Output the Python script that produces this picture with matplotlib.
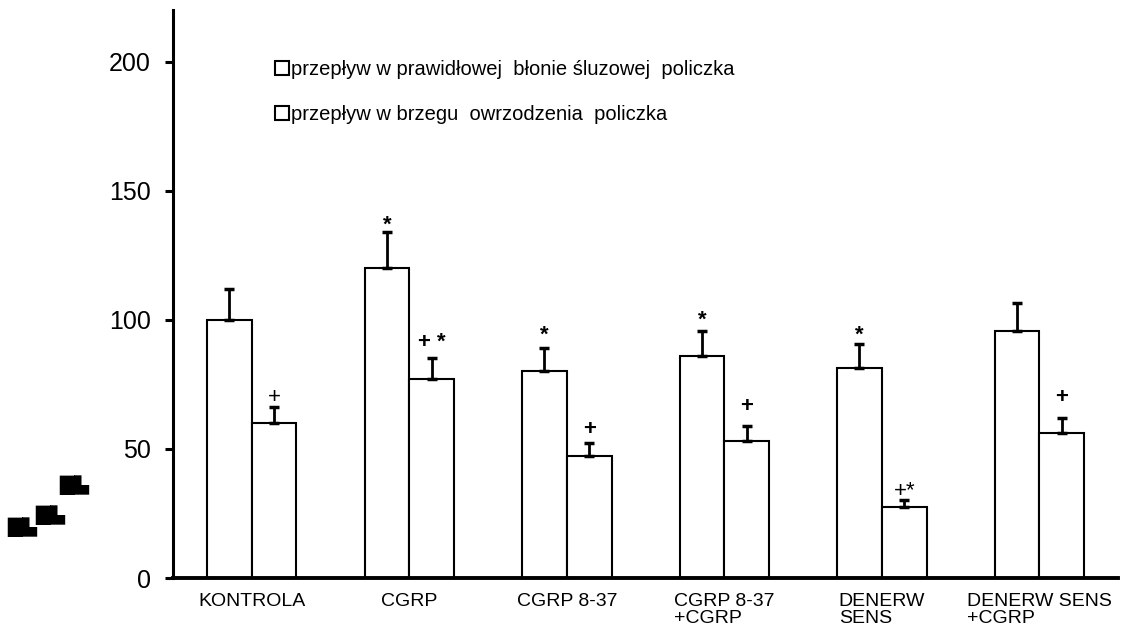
import matplotlib as mpl
import matplotlib.pyplot as plt
import numpy as np

groups = ['KONTROLA', 'CGRP', 'CGRP 8-37', 'CGRP 8-37\n+CGRP', 'DENERW\nSENS', 'DENERW SENS\n+CGRP']
labels = ['przepływ w prawidłowej  błonie śluzowej  policzka',
          'przepływ w brzegu  owrzodzenia  policzka']

normal = [100, 120, 80, 86, 81.5, 95.5]
normal_err = [12, 14, 9, 9.5, 9, 11]
ulcer = [60, 77, 47.3, 53, 27.5, 56]
ulcer_err = [6.4, 8.2, 5, 6, 2.6, 6]

# significance marks above each bar
marks_normal = ['', '*', '*', '*', '*', '']
marks_ulcer = ['+', '+ *', '+', '+', '+*', '+']
bold_plus = [False, True, True, True, False, True]


def main():
    mpl.rcParams['font.family'] = ['Liberation Sans', 'DejaVu Sans']

    fig = plt.figure(figsize=(11.26, 6.3), dpi=100)
    ax = fig.add_axes([0.1536, 0.0825, 0.8394, 0.9015])

    X = np.arange(len(groups))
    w = 0.284
    lw = 1.5

    ax.bar(X - w / 2, normal, width=w, facecolor='white', edgecolor='black',
           linewidth=lw, label=labels[0])
    ax.bar(X + w / 2, ulcer, width=w, facecolor='white', edgecolor='black',
           linewidth=lw, label=labels[1])

    # only the upper half of the error bars is drawn
    ax.errorbar(X - w / 2, normal, yerr=[np.zeros(len(X)), normal_err], fmt='none',
                ecolor='black', elinewidth=2, capsize=3.5, capthick=2.5)
    ax.errorbar(X + w / 2, ulcer, yerr=[np.zeros(len(X)), ulcer_err], fmt='none',
                ecolor='black', elinewidth=2, capsize=3.5, capthick=2.5)

    # gap (points) between the error cap and the mark
    star_gap = [0, -2.5, 1.5, 0.5, -1, 0]
    plus_gap = [-1, 4, 2.5, 6, -1, 7]
    for i in X:
        if marks_normal[i]:
            ax.annotate(marks_normal[i], (i - w / 2, normal[i] + normal_err[i]),
                        xytext=(0, star_gap[i]), textcoords='offset points',
                        ha='center', va='bottom', fontsize=16, fontweight='bold')
        weight = 'bold' if bold_plus[i] else 'normal'
        ax.annotate(marks_ulcer[i], (i + w / 2, ulcer[i] + ulcer_err[i]),
                    xytext=(0, plus_gap[i]), textcoords='offset points',
                    ha='center', va='bottom', fontsize=16, fontweight=weight)

    ax.set_xlim(-0.5, len(groups) - 0.5)
    ax.set_ylim(0, 220)
    ax.set_yticks([0, 50, 100, 150, 200])
    ax.set_xticks(X)
    ax.set_xticklabels(groups, fontsize=14, linespacing=1.0)
    plt.setp(ax.get_xticklabels(), multialignment='left')
    ax.tick_params(axis='x', length=0, pad=11)
    ax.tick_params(axis='y', length=6, width=2.2, direction='out', pad=10, labelsize=18)

    for s in ['top', 'right']:
        ax.spines[s].set_visible(False)
    ax.spines['left'].set_linewidth(2.2)
    ax.spines['bottom'].set_linewidth(2.8)

    leg = ax.legend(loc='upper left', bbox_to_anchor=(0.235, 0.92), bbox_transform=fig.transFigure,
                    frameon=False, fontsize=14.5, handlelength=0.7, handleheight=0.7,
                    handletextpad=0.1, labelspacing=1.28, borderpad=0)
    for h in leg.legend_handles:
        h.set_linewidth(1.5)

    # garbled axis title glyphs at the lower left
    for x, y in [(0.006, 0.148), (0.031, 0.167), (0.053, 0.214)]:
        fig.text(x, y, '█▙', fontsize=14, fontweight='bold', family='DejaVu Sans',
                 ha='left', va='bottom')

    plt.savefig('out.png', dpi=100)


if __name__ == '__main__':
    main()
